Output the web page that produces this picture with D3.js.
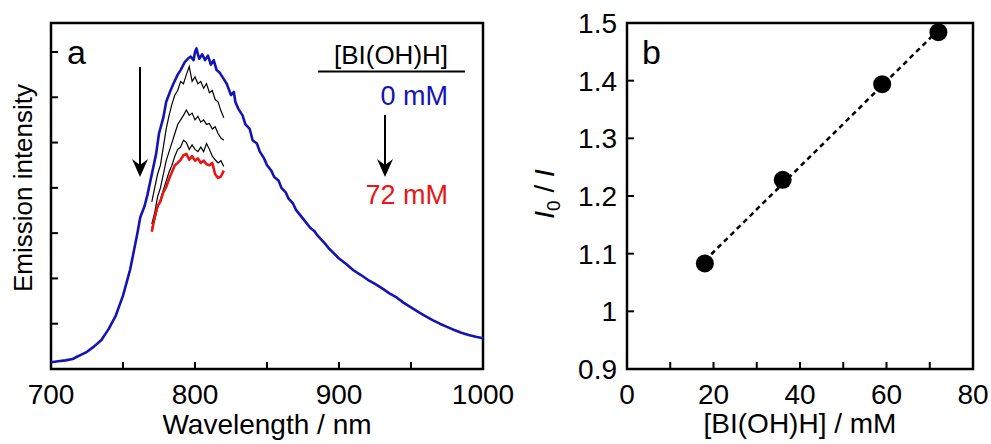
<!DOCTYPE html>
<html><head><meta charset="utf-8">
<script src="https://cdn.jsdelivr.net/npm/d3@7"></script>
<style>body{margin:0;background:#fff}svg{display:block}text{font-family:"Liberation Sans",Arial,sans-serif;fill:#000}</style>
</head><body>
<svg id="c" width="991" height="444"></svg>
<script>
// ---- Panel a data ----
const blueWl = [700,705,710,715,718,720,725,730,735,740,745,750,755,760,762,765,767,770,773,775,778,780,783,785,788,790,793,795,797,799,800,801,802,803,805,807,809,811,813,815,817,820,822,825,827,828,830,833,835,838,840,843,845,848,850,853,855,858,860,863,865,868,870,875,880,883,885,890,893,895,900,905,910,915,920,925,930,935,940,945,950,955,960,965,970,975,980,985,990,995,1000];
const blueI = [0.15,0.17,0.19,0.22,0.27,0.3,0.38,0.5,0.64,0.88,1.18,1.62,2.2,3.0,3.35,3.6,3.85,4.3,4.75,5.2,5.55,5.9,6.15,6.3,6.5,6.6,6.78,6.85,6.9,6.82,7.0,7.08,6.95,6.85,6.95,6.82,6.92,6.72,6.82,6.6,6.55,6.4,6.3,6.05,6.12,5.9,5.75,5.6,5.4,5.3,5.05,4.98,4.8,4.65,4.5,4.38,4.24,4.16,4.0,3.9,3.76,3.66,3.52,3.32,3.12,3.04,2.95,2.78,2.66,2.6,2.44,2.32,2.18,2.08,1.97,1.88,1.78,1.67,1.58,1.46,1.36,1.26,1.17,1.08,1.0,0.93,0.86,0.8,0.75,0.71,0.68];
const quenchWl = [770,772,774,776,778,780,782,784,786,788,790,792,794,796,798,800,802,804,806,808,810,812,814,816,818,820];
const black1I = [3.69,4.0,4.3,4.5,4.9,5.3,5.6,5.85,6.05,6.15,6.35,6.3,6.5,6.68,6.35,6.45,6.3,6.35,6.2,6.3,6.1,6.15,5.95,5.9,5.7,5.55];
const black2I = [3.2,3.45,3.8,4.0,4.3,4.6,4.8,5.0,5.2,5.4,5.5,5.6,5.72,5.6,5.65,5.5,5.58,5.45,5.5,5.4,5.42,5.3,5.35,5.2,5.1,5.05];
const black3I = [3.1,3.3,3.55,3.75,3.95,4.15,4.35,4.5,4.7,4.85,4.9,5.05,5.0,4.85,4.95,4.85,4.8,4.9,4.8,4.98,4.85,4.7,4.62,4.55,4.6,4.47];
const redI = [3.03,3.35,3.6,3.7,3.9,4.02,4.2,4.35,4.5,4.55,4.62,4.72,4.75,4.62,4.7,4.6,4.65,4.55,4.6,4.52,4.5,4.55,4.3,4.22,4.25,4.38];
const aXTicks = [700,750,800,850,900,950,1000];
const aXLabels = ["700","800","900","1000"];
const aYTicks = [1,2,3,4,5,6,7];

// ---- Panel b data ----
const concB = [18,36,59,72];
const ratioB = [1.083,1.228,1.394,1.484];
const bXTicks = [0,10,20,30,40,50,60,70,80];
const bXLabels = ["0","20","40","60","80"];
const bYTicks = [0.9,1.0,1.1,1.2,1.3,1.4,1.5];
const bYLabels = ["0.9","1","1.1","1.2","1.3","1.4","1.5"];

const svg = d3.select("#c");
const blue = "#1414b4", red = "#ea1515";

// ===== Panel a =====
const ax = d3.scaleLinear().domain([700,1000]).range([51,483]);
const ay = d3.scaleLinear().domain([0,7.64]).range([369,23]);
const ga = svg.append("g");
ga.append("rect").attr("x",51).attr("y",23).attr("width",432).attr("height",346)
  .attr("fill","none").attr("stroke","#000").attr("stroke-width",2.5);
ga.selectAll(".xt").data(aXTicks).join("line")
  .attr("x1",d=>ax(d)).attr("x2",d=>ax(d)).attr("y1",369).attr("y2",362)
  .attr("stroke","#000").attr("stroke-width",2);
ga.selectAll(".yt").data(aYTicks).join("line")
  .attr("x1",51).attr("x2",58).attr("y1",d=>ay(d)).attr("y2",d=>ay(d))
  .attr("stroke","#000").attr("stroke-width",2);
ga.selectAll(".xl").data(aXLabels).join("text")
  .attr("x",d=>ax(+d)).attr("y",404).attr("text-anchor","middle")
  .attr("font-size",28).text(d=>d);
ga.append("text").attr("x",267).attr("y",434).attr("text-anchor","middle")
  .attr("font-size",28).text("Wavelength / nm");
ga.append("text").attr("transform","translate(32,188) rotate(-90)")
  .attr("text-anchor","middle").attr("font-size",26).text("Emission intensity");

const line = (xs,ys)=> d3.line().x((d,i)=>ax(xs[i])).y(d=>ay(d))(ys);
ga.append("path").attr("d",line(blueWl,blueI)).attr("fill","none").attr("stroke",blue).attr("stroke-width",2.6).attr("stroke-linejoin","round");
[black1I,black2I,black3I].forEach(s=>{
  ga.append("path").attr("d",line(quenchWl,s)).attr("fill","none").attr("stroke","#000").attr("stroke-width",1.2);
});
ga.append("path").attr("d",line(quenchWl,redI)).attr("fill","none").attr("stroke",red).attr("stroke-width",2.6).attr("stroke-linejoin","round");

function arrow(g,x,y1,y2){
  g.append("line").attr("x1",x).attr("x2",x).attr("y1",y1).attr("y2",y2-8).attr("stroke","#000").attr("stroke-width",2);
  g.append("path").attr("d",`M${x},${y2} L${x-8},${y2-18} L${x},${y2-12} L${x+8},${y2-18} Z`).attr("fill","#000");
}
arrow(ga,140,67,177);
ga.append("text").attr("x",67).attr("y",64).attr("font-size",34).text("a");
// legend
ga.append("text").attr("x",391).attr("y",64).attr("text-anchor","middle").attr("font-size",26).text("[BI(OH)H]");
ga.append("line").attr("x1",318).attr("x2",465).attr("y1",71.5).attr("y2",71.5).attr("stroke","#000").attr("stroke-width",2);
ga.append("text").attr("x",448).attr("y",105).attr("text-anchor","end").attr("font-size",27).style("fill",blue).text("0 mM");
arrow(ga,385,115,177);
ga.append("text").attr("x",448).attr("y",204).attr("text-anchor","end").attr("font-size",27).style("fill",red).text("72 mM");

// ===== Panel b =====
const bx = d3.scaleLinear().domain([0,80]).range([627,973]);
const by = d3.scaleLinear().domain([0.9,1.5]).range([369,23]);
const gb = svg.append("g");
gb.append("rect").attr("x",627).attr("y",23).attr("width",346).attr("height",346)
  .attr("fill","none").attr("stroke","#000").attr("stroke-width",2.5);
gb.selectAll(".xt").data(bXTicks).join("line")
  .attr("x1",d=>bx(d)).attr("x2",d=>bx(d)).attr("y1",369).attr("y2",362)
  .attr("stroke","#000").attr("stroke-width",2);
gb.selectAll(".yt").data(bYTicks).join("line")
  .attr("x1",627).attr("x2",634).attr("y1",d=>by(d)).attr("y2",d=>by(d))
  .attr("stroke","#000").attr("stroke-width",2);
gb.selectAll(".xl").data(bXLabels).join("text")
  .attr("x",d=>bx(+d)).attr("y",404).attr("text-anchor","middle")
  .attr("font-size",28).text(d=>d);
gb.selectAll(".yl").data(bYLabels).join("text")
  .attr("x",617).attr("y",d=>by(+d)+10).attr("text-anchor","end")
  .attr("font-size",28).text(d=>d);
gb.append("text").attr("x",800).attr("y",433).attr("text-anchor","middle")
  .attr("font-size",28).text("[BI(OH)H] / mM");
const yl = gb.append("text").attr("transform","translate(554,194) rotate(-90)")
  .attr("text-anchor","middle").attr("font-size",28);
yl.append("tspan").attr("font-style","italic").text("I");
yl.append("tspan").attr("font-size",19).attr("dy",6).text("0");
yl.append("tspan").attr("dy",-6).text(" / ");
yl.append("tspan").attr("font-style","italic").text("I");
gb.append("text").attr("x",642).attr("y",64).attr("font-size",34).text("b");

// regression dashed line
const n = concB.length, mx = d3.mean(concB), my = d3.mean(ratioB);
const slope = d3.sum(concB.map((x,i)=>(x-mx)*(ratioB[i]-my)))/d3.sum(concB.map(x=>(x-mx)*(x-mx)));
const icpt = my - slope*mx;
const xr = [concB[0], concB[n-1]];
gb.append("line").attr("x1",bx(xr[0])).attr("y1",by(icpt+slope*xr[0]))
  .attr("x2",bx(xr[1])).attr("y2",by(icpt+slope*xr[1]))
  .attr("stroke","#000").attr("stroke-width",2.5).attr("stroke-dasharray","5,4");
gb.selectAll(".pt").data(concB).join("circle")
  .attr("cx",d=>bx(d)).attr("cy",(d,i)=>by(ratioB[i])).attr("r",9).attr("fill","#000");
</script>
</body></html>
